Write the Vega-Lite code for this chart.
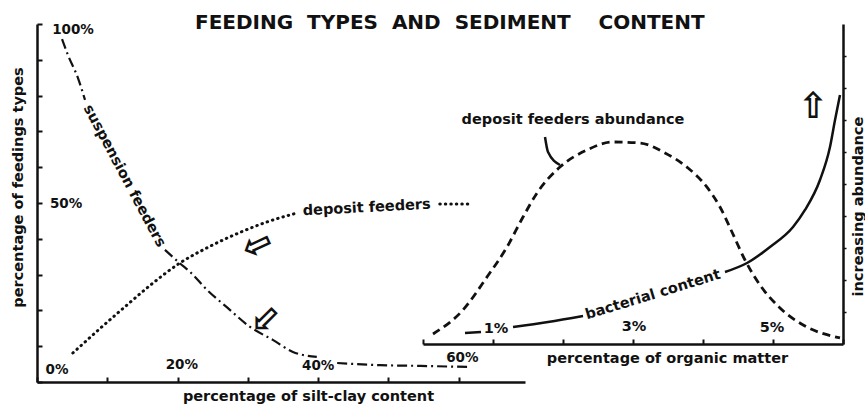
{
  "$schema": "https://vega.github.io/schema/vega-lite/v6.json",
  "width": 806,
  "height": 358,
  "autosize": {"type": "none"},
  "padding": {"left": 37, "top": 24, "right": 22, "bottom": 25},
  "background": "white",
  "config": {
    "view": {"stroke": null},
    "text": {"font": "DejaVu Sans", "fontWeight": "bold", "fontSize": 14, "color": "#111", "align": "center", "baseline": "middle"},
    "axis": {"domainColor": "#111", "tickColor": "#111", "domainWidth": 2.5, "tickWidth": 2, "grid": false, "labels": false,
      "titleFont": "DejaVu Sans", "titleFontWeight": "bold", "titleFontSize": 14.5, "titleColor": "#111"}
  },
  "title": {
    "text": "FEEDING\u00a0 TYPES\u00a0 AND\u00a0 SEDIMENT\u00a0 \u00a0 CONTENT",
    "anchor": "start", "frame": "group", "dx": 158, "dy": 23, "offset": -3, "baseline": "alphabetic",
    "font": "DejaVu Sans", "fontSize": 20, "fontWeight": "bold", "color": "#111"
  },
  "datasets": {
    "leftLines": [
      {"series": "suspension", "seg": "s1", "x": 3.56, "y": 95.8},
      {"series": "suspension", "seg": "s1", "x": 4.41, "y": 91.3},
      {"series": "suspension", "seg": "s1", "x": 5.83, "y": 84.9},
      {"series": "suspension", "seg": "s1", "x": 6.83, "y": 78.8},
      {"series": "suspension", "seg": "s2", "x": 18.2, "y": 36.9},
      {"series": "suspension", "seg": "s2", "x": 20.3, "y": 33.2},
      {"series": "suspension", "seg": "s2", "x": 21.8, "y": 30.7},
      {"series": "suspension", "seg": "s2", "x": 24.2, "y": 25.7},
      {"series": "suspension", "seg": "s2", "x": 27.0, "y": 20.9},
      {"series": "suspension", "seg": "s2", "x": 30.3, "y": 15.4},
      {"series": "suspension", "seg": "s2", "x": 33.6, "y": 11.7},
      {"series": "suspension", "seg": "s2", "x": 36.4, "y": 8.4},
      {"series": "suspension", "seg": "s2", "x": 39.8, "y": 7.0},
      {"series": "suspension", "seg": "s3", "x": 42.7, "y": 5.3},
      {"series": "suspension", "seg": "s3", "x": 48.8, "y": 4.7},
      {"series": "suspension", "seg": "s3", "x": 54.5, "y": 4.5},
      {"series": "suspension", "seg": "s3", "x": 61.2, "y": 4.2},
      {"series": "deposit", "seg": "d1", "x": 5.1, "y": 8.1},
      {"series": "deposit", "seg": "d1", "x": 9.0, "y": 15.0},
      {"series": "deposit", "seg": "d1", "x": 12.8, "y": 21.5},
      {"series": "deposit", "seg": "d1", "x": 16.1, "y": 27.0},
      {"series": "deposit", "seg": "d1", "x": 20.3, "y": 33.2},
      {"series": "deposit", "seg": "d1", "x": 24.2, "y": 37.5},
      {"series": "deposit", "seg": "d1", "x": 28.9, "y": 41.8},
      {"series": "deposit", "seg": "d1", "x": 32.7, "y": 44.7},
      {"series": "deposit", "seg": "d1", "x": 37.0, "y": 47.2},
      {"series": "deposit", "seg": "d2", "x": 57.3, "y": 49.7},
      {"series": "deposit", "seg": "d2", "x": 61.6, "y": 49.7}
    ],
    "leftText": [
      {"kind": "tick", "label": "100%", "x": 5.12, "y": 98.3},
      {"kind": "tick", "label": "50%", "x": 4.13, "y": 49.7},
      {"kind": "tick", "label": "0%", "x": 2.84, "y": 3.35},
      {"kind": "tick", "label": "20%", "x": 20.6, "y": 4.75},
      {"kind": "tick", "label": "40%", "x": 40.0, "y": 4.47},
      {"kind": "tick", "label": "60%", "x": 60.5, "y": 6.7},
      {"kind": "suspension", "label": "suspension feeders", "x": 12.4, "y": 57.5},
      {"kind": "deposit", "label": "deposit feeders", "x": 46.9, "y": 48.6},
      {"kind": "arrow1", "label": "⇧", "x": 31.6, "y": 38.5},
      {"kind": "arrow2", "label": "⇧", "x": 32.7, "y": 17.9}
    ],
    "rightLines": [
      {"series": "abundance", "seg": "a", "x": 0.143, "y": 3.13},
      {"series": "abundance", "seg": "a", "x": 0.571, "y": 10.63},
      {"series": "abundance", "seg": "a", "x": 0.914, "y": 20.94},
      {"series": "abundance", "seg": "a", "x": 1.2, "y": 30.31},
      {"series": "abundance", "seg": "a", "x": 1.429, "y": 39.69},
      {"series": "abundance", "seg": "a", "x": 1.629, "y": 47.19},
      {"series": "abundance", "seg": "a", "x": 1.957, "y": 55.31},
      {"series": "abundance", "seg": "a", "x": 2.343, "y": 60.63},
      {"series": "abundance", "seg": "a", "x": 2.714, "y": 63.13},
      {"series": "abundance", "seg": "a", "x": 3.1, "y": 62.81},
      {"series": "abundance", "seg": "a", "x": 3.457, "y": 59.69},
      {"series": "abundance", "seg": "a", "x": 3.786, "y": 55.0},
      {"series": "abundance", "seg": "a", "x": 4.043, "y": 49.38},
      {"series": "abundance", "seg": "a", "x": 4.243, "y": 42.81},
      {"series": "abundance", "seg": "a", "x": 4.414, "y": 35.0},
      {"series": "abundance", "seg": "a", "x": 4.6, "y": 26.25},
      {"series": "abundance", "seg": "a", "x": 4.814, "y": 18.44},
      {"series": "abundance", "seg": "a", "x": 5.1, "y": 11.25},
      {"series": "abundance", "seg": "a", "x": 5.457, "y": 5.63},
      {"series": "abundance", "seg": "a", "x": 5.957, "y": 1.88},
      {"series": "bacteria", "seg": "A", "x": 0.6, "y": 3.44},
      {"series": "bacteria", "seg": "A", "x": 0.829, "y": 3.75},
      {"series": "bacteria", "seg": "B", "x": 1.286, "y": 5.31},
      {"series": "bacteria", "seg": "B", "x": 1.786, "y": 6.88},
      {"series": "bacteria", "seg": "B", "x": 2.286, "y": 8.75},
      {"series": "bacteria", "seg": "C", "x": 4.314, "y": 22.5},
      {"series": "bacteria", "seg": "C", "x": 4.629, "y": 25.31},
      {"series": "bacteria", "seg": "C", "x": 4.957, "y": 30.31},
      {"series": "bacteria", "seg": "C", "x": 5.286, "y": 36.56},
      {"series": "bacteria", "seg": "C", "x": 5.457, "y": 41.88},
      {"series": "bacteria", "seg": "C", "x": 5.671, "y": 51.25},
      {"series": "bacteria", "seg": "C", "x": 5.814, "y": 61.56},
      {"series": "bacteria", "seg": "C", "x": 5.886, "y": 70.0},
      {"series": "bacteria", "seg": "C", "x": 5.957, "y": 77.81},
      {"series": "pointer", "seg": "P", "x": 1.743, "y": 64.69},
      {"series": "pointer", "seg": "P", "x": 1.786, "y": 60.0},
      {"series": "pointer", "seg": "P", "x": 1.957, "y": 55.94}
    ],
    "rightText": [
      {"kind": "tick", "label": "1%", "x": 1.043, "y": 4.69},
      {"kind": "tick", "label": "3%", "x": 3.014, "y": 5.31},
      {"kind": "tick", "label": "5%", "x": 4.986, "y": 5.0},
      {"kind": "tick", "label": "deposit feeders abundance", "x": 2.143, "y": 70.0},
      {"kind": "bacteria", "label": "bacterial content", "x": 3.286, "y": 15.31},
      {"kind": "arrow", "label": "⇧", "x": 5.571, "y": 74.06}
    ]
  },
  "layer": [
    {
      "encoding": {
        "x": {"field": "x", "type": "quantitative",
          "scale": {"domain": [0, 69.42], "range": [0, 488], "nice": false, "zero": false},
          "axis": {"orient": "bottom", "values": [0, 10, 20, 30, 40, 50, 60], "tickSize": -5,
            "title": "percentage of silt-clay content", "titleX": 271, "titleY": 14,
            "titleBaseline": "middle", "titleAlign": "center"}},
        "y": {"field": "y", "type": "quantitative",
          "scale": {"domain": [0, 100], "range": [358, 0], "nice": false, "zero": false},
          "axis": {"orient": "left", "values": [0, 10, 20, 30, 40, 50, 60, 70, 80, 90, 100], "tickSize": -5,
            "title": "percentage of feedings types", "titleX": -19, "titleY": 163, "titleAngle": 270,
            "titleBaseline": "middle", "titleAlign": "center"}}
      },
      "layer": [
        {"data": {"name": "leftLines"}, "transform": [{"filter": "datum.series == 'suspension'"}],
          "mark": {"type": "line", "color": "#111", "strokeWidth": 2.2, "strokeDash": [10, 4, 2, 4], "interpolate": "monotone"},
          "encoding": {"detail": {"field": "seg"}}},
        {"data": {"name": "leftLines"}, "transform": [{"filter": "datum.series == 'deposit'"}],
          "mark": {"type": "line", "color": "#111", "strokeWidth": 3, "strokeDash": [0.5, 5], "strokeCap": "round", "interpolate": "monotone"},
          "encoding": {"detail": {"field": "seg"}}},
        {"data": {"name": "leftText"}, "transform": [{"filter": "datum.kind == 'tick'"}],
          "mark": {"type": "text", "fontSize": 13.5}, "encoding": {"text": {"field": "label"}}},
        {"data": {"name": "leftText"}, "transform": [{"filter": "datum.kind == 'suspension'"}],
          "mark": {"type": "text", "fontSize": 14.5, "angle": 62}, "encoding": {"text": {"field": "label"}}},
        {"data": {"name": "leftText"}, "transform": [{"filter": "datum.kind == 'deposit'"}],
          "mark": {"type": "text", "fontSize": 14.5, "angle": -3}, "encoding": {"text": {"field": "label"}}},
        {"data": {"name": "leftText"}, "transform": [{"filter": "datum.kind == 'arrow1'"}],
          "mark": {"type": "text", "fontSize": 36, "fontWeight": "bold", "angle": -115}, "encoding": {"text": {"field": "label"}}},
        {"data": {"name": "leftText"}, "transform": [{"filter": "datum.kind == 'arrow2'"}],
          "mark": {"type": "text", "fontSize": 36, "fontWeight": "bold", "angle": -135}, "encoding": {"text": {"field": "label"}}}
      ]
    },
    {
      "encoding": {
        "x": {"field": "x", "type": "quantitative",
          "scale": {"domain": [0, 6], "range": [386, 806], "nice": false, "zero": false},
          "axis": {"orient": "bottom", "offset": -38, "values": [0, 1, 2, 3, 4, 5, 6], "tickSize": -5,
            "title": "percentage of organic matter", "titleX": 630, "titleY": 14,
            "titleBaseline": "middle", "titleAlign": "center"}},
        "y": {"field": "y", "type": "quantitative",
          "scale": {"domain": [0, 100], "range": [320, 0], "nice": false, "zero": false},
          "axis": {"orient": "right", "values": [10, 20, 30, 40, 50, 60, 70, 80, 90], "tickSize": 3, "tickWidth": 1.5,
            "title": "increasing abundance", "titleX": 15, "titleY": 182, "titleAngle": 270,
            "titleBaseline": "middle", "titleAlign": "center"}}
      },
      "layer": [
        {"data": {"name": "rightLines"}, "transform": [{"filter": "datum.series == 'abundance'"}],
          "mark": {"type": "line", "color": "#111", "strokeWidth": 2.8, "strokeDash": [8, 5], "interpolate": "monotone"},
          "encoding": {"detail": {"field": "seg"}}},
        {"data": {"name": "rightLines"}, "transform": [{"filter": "datum.series == 'bacteria'"}],
          "mark": {"type": "line", "color": "#111", "strokeWidth": 2.5, "interpolate": "monotone"},
          "encoding": {"detail": {"field": "seg"}}},
        {"data": {"name": "rightLines"}, "transform": [{"filter": "datum.series == 'pointer'"}],
          "mark": {"type": "line", "color": "#111", "strokeWidth": 2.5, "interpolate": "monotone"},
          "encoding": {"detail": {"field": "seg"}}},
        {"data": {"name": "rightText"}, "transform": [{"filter": "datum.kind == 'tick'"}],
          "mark": {"type": "text", "fontSize": 14.5}, "encoding": {"text": {"field": "label"}}},
        {"data": {"name": "rightText"}, "transform": [{"filter": "datum.kind == 'bacteria'"}],
          "mark": {"type": "text", "fontSize": 14.5, "angle": -17}, "encoding": {"text": {"field": "label"}}},
        {"data": {"name": "rightText"}, "transform": [{"filter": "datum.kind == 'arrow'"}],
          "mark": {"type": "text", "fontSize": 36, "fontWeight": "bold"}, "encoding": {"text": {"field": "label"}}}
      ]
    }
  ],
  "resolve": {"scale": {"x": "independent", "y": "independent"}}
}
